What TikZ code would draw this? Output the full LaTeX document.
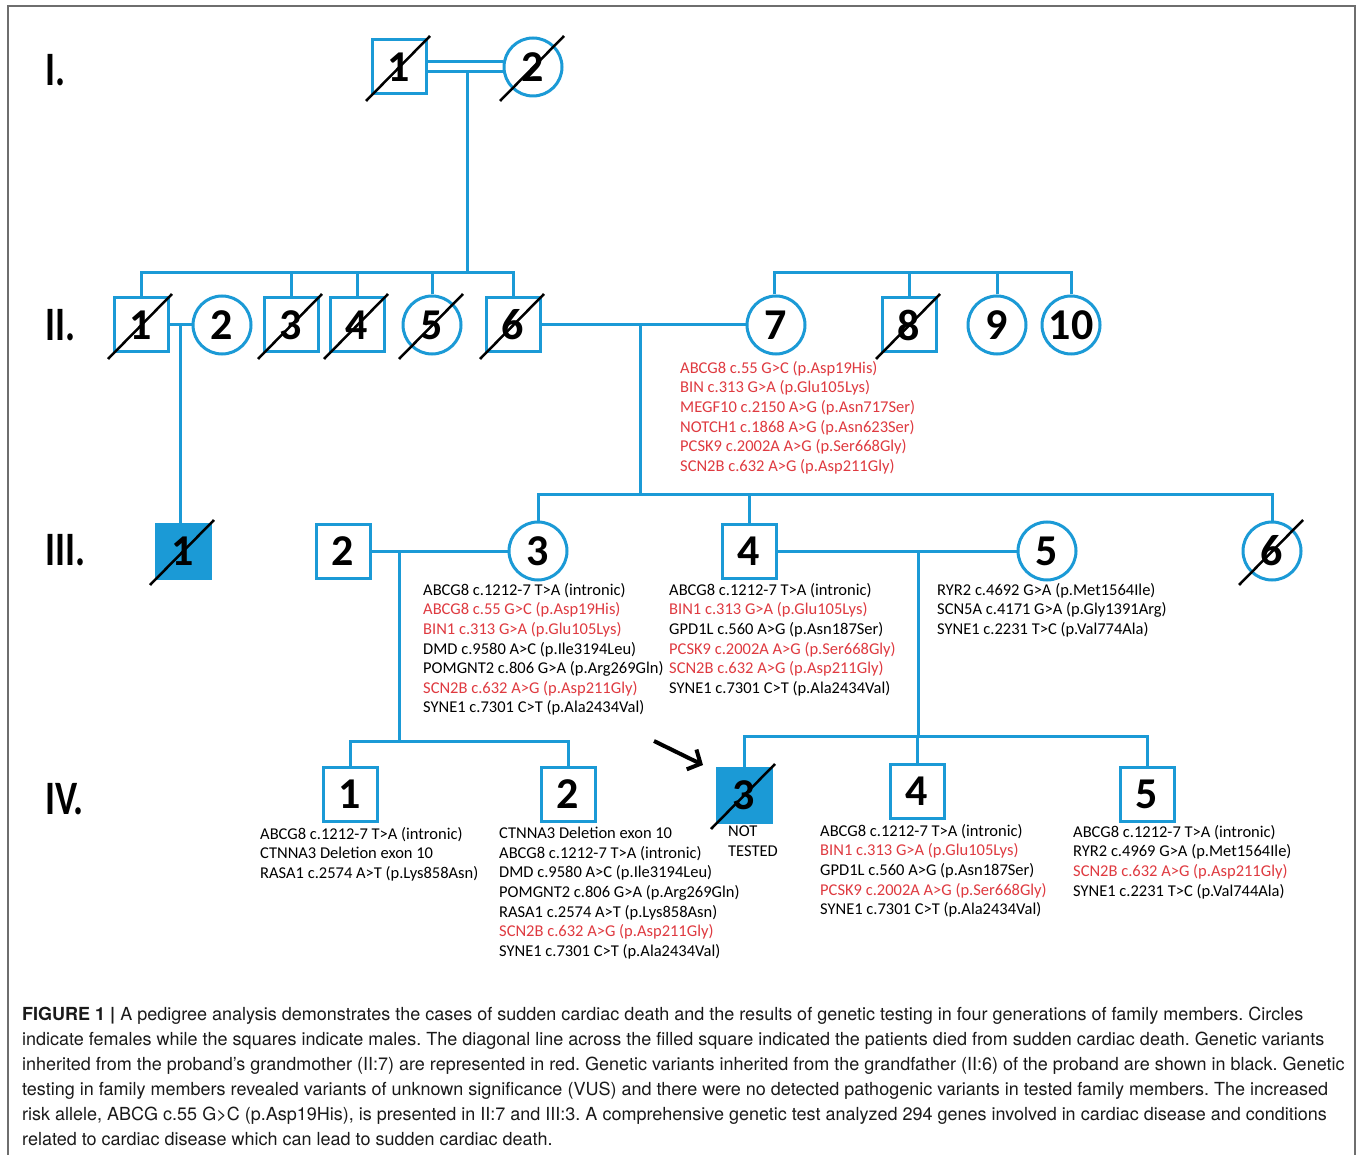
\documentclass[tikz,border=0pt]{standalone}
\usepackage{fontspec}
\setmainfont{Carlito}
\newfontfamily\capfont{TeX Gyre Heros}
\newfontfamily\genfont[FakeStretch=0.78]{Carlito}
\usetikzlibrary{calc,arrows.meta}
\definecolor{pblue}{HTML}{1B9AD6}
\definecolor{vred}{HTML}{DF3A40}
\definecolor{framegray}{HTML}{6E6E6E}
\definecolor{captext}{HTML}{1A1A1A}
\newcommand\redv[1]{\textcolor{vred}{#1}}
\frenchspacing
\begin{document}
\begin{tikzpicture}[x=1pt,y=-1pt,
  person/.style={draw=pblue,line width=3pt,inner sep=0pt,text=black,
    font=\fontsize{44}{44}\selectfont\bfseries},
  male/.style={person,rectangle,minimum size=54pt},
  female/.style={person,circle,minimum size=58pt},
  affected/.style={fill=pblue},
  rel/.style={draw=pblue,line width=3pt},
  slash/.style={draw=black,line width=2.5pt},
  gen/.style={font=\genfont\fontsize{48}{48}\selectfont\bfseries,anchor=west,inner sep=0pt},
  var/.style={font=\fontsize{16.5}{19.6}\selectfont,align=left,anchor=north west,inner sep=0pt},
]
\useasboundingbox (0,0) rectangle (1358,1155);
\fill[white] (0,0) rectangle (1358,1155);
\draw[framegray,line width=1.5pt] (8,1160) -- (8,6) -- (1355,6) -- (1355,1160);

% generation labels
\node[gen] (gI) at (45,70) {I.};
\node[gen] (gII) at (45,325) {II.};
\node[gen] (gIII) at (45,550) {III.};
\node[gen] (gIV) at (45,799) {IV.};

% generation I
\node[male] (I1) at (399,67) {1};
\node[female] (I2) at (533,67) {2};
% generation II
\node[male] (II1) at (141,325) {1};
\node[female] (II2) at (222,325) {2};
\node[male] (II3) at (291,325) {3};
\node[male] (II4) at (357,325) {4};
\node[female] (II5) at (432,325) {5};
\node[male] (II6) at (513,325) {6};
\node[female] (II7) at (776,325) {7};
\node[male] (II8) at (909,325) {8};
\node[female] (II9) at (997,325) {9};
\node[female] (II10) at (1071,325) {10};
% generation III
\node[male,affected] (III1) at (183,551) {1};
\node[male] (III2) at (343,551) {2};
\node[female] (III3) at (538,551) {3};
\node[male] (III4) at (749,551) {4};
\node[female] (III5) at (1047,551) {5};
\node[female] (III6) at (1272,551) {6};
% generation IV
\node[male] (IV1) at (350,794) {1};
\node[male] (IV2) at (568,794) {2};
\node[male,affected] (IV3) at (744,795) {3};
\node[male] (IV4) at (917,791) {4};
\node[male] (IV5) at (1147,794) {5};

% slashes (deceased)
\foreach \n in {I1,I2,II1,II3,II4,II5,II6,II8,III1,III6,IV3}
  \draw[slash] ($(\n)+(-33,34)$) -- ($(\n)+(31,-31)$);

% junction coordinates
\coordinate (mI) at (467,72);
\coordinate (sII) at (467,273);
\coordinate (mII12) at (180,325);
\coordinate (mII67) at (640,325);
\coordinate (sIII) at (640,494);
\coordinate (sII7) at (774,273);
\coordinate (mIII23) at (399,551);
\coordinate (sIVa) at (399,741);
\coordinate (mIII45) at (918,551);
\coordinate (sIVb) at (918,736);

% generation I couple (double line) and descent
\draw[rel] ([yshift=5pt]I1.east) -- ([yshift=5pt]I2.west);
\draw[rel] ([yshift=-5pt]I1.east) -- ([yshift=-5pt]I2.west);
\draw[rel] (mI) -- (sII);
% sibship II
\draw[rel] (II1.north) -- (II1.north |- sII) -- (II6.north |- sII) -- (II6.north);
\foreach \n in {II3,II4,II5} \draw[rel] (\n.north) -- (\n.north |- sII);
% II:1 x II:2
\draw[rel] (II1) -- (II2);
\draw[rel] (mII12) -- (mII12 |- III1.north);
% II:6 x II:7
\draw[rel] (II6) -- (II7);
\draw[rel] (mII67) -- (sIII);
\draw[rel] (III3.north) -- (III3.north |- sIII) -- (III6.north |- sIII) -- (III6.north);
\draw[rel] (III4.north) -- (III4.north |- sIII);
% II:7 sibship
\draw[rel] (sII7 |- II7.north) -- (sII7) -- (II10.north |- sII7) -- (II10.north);
\foreach \n in {II8,II9} \draw[rel] (\n.north) -- (\n.north |- sII7);
% III:2 x III:3
\draw[rel] (III2) -- (III3);
\draw[rel] (mIII23) -- (sIVa);
\draw[rel] (IV1.north) -- (IV1.north |- sIVa) -- (IV2.north |- sIVa) -- (IV2.north);
% III:4 x III:5
\draw[rel] (III4) -- (III5);
\draw[rel] (mIII45) -- (sIVb);
\draw[rel] (IV3.north) -- (IV3.north |- sIVb) -- (IV5.north |- sIVb) -- (IV5.north);
\draw[rel] (IV4.north) -- (IV4.north |- sIVb);

% proband arrow
\coordinate (arrS) at (654,741);
\coordinate (arrE) at (703,765);
\draw[black,line width=4pt,-{Straight Barb[length=10pt,width=22pt]}] (arrS) -- (arrE);

% variant lists
\node[var] (vII7) at (680,361) {\redv{ABCG8 c.55 G>C (p.Asp19His)}\\
\redv{BIN c.313 G>A (p.Glu105Lys)}\\
\redv{MEGF10 c.2150 A>G (p.Asn717Ser)}\\
\redv{NOTCH1 c.1868 A>G (p.Asn623Ser)}\\
\redv{PCSK9 c.2002A A>G (p.Ser668Gly)}\\
\redv{SCN2B c.632 A>G (p.Asp211Gly)}};

\node[var] (vIII3) at (423,583) {ABCG8 c.1212-7 T>A (intronic)\\
\redv{ABCG8 c.55 G>C (p.Asp19His)}\\
\redv{BIN1 c.313 G>A (p.Glu105Lys)}\\
DMD c.9580 A>C (p.Ile3194Leu)\\
POMGNT2 c.806 G>A (p.Arg269Gln)\\
\redv{SCN2B c.632 A>G (p.Asp211Gly)}\\
SYNE1 c.7301 C>T (p.Ala2434Val)};

\node[var] (vIII4) at (669,583) {ABCG8 c.1212-7 T>A (intronic)\\
\redv{BIN1 c.313 G>A (p.Glu105Lys)}\\
GPD1L c.560 A>G (p.Asn187Ser)\\
\redv{PCSK9 c.2002A A>G (p.Ser668Gly)}\\
\redv{SCN2B c.632 A>G (p.Asp211Gly)}\\
SYNE1 c.7301 C>T (p.Ala2434Val)};

\node[var] (vIII5) at (937,583) {RYR2 c.4692 G>A (p.Met1564Ile)\\
SCN5A c.4171 G>A (p.Gly1391Arg)\\
SYNE1 c.2231 T>C (p.Val774Ala)};

\node[var] (vIV1) at (260,827) {ABCG8 c.1212-7 T>A (intronic)\\
CTNNA3 Deletion exon 10\\
RASA1 c.2574 A>T (p.Lys858Asn)};

\node[var] (vIV2) at (499,827) {CTNNA3 Deletion exon 10\\
ABCG8 c.1212-7 T>A (intronic)\\
DMD c.9580 A>C (p.Ile3194Leu)\\
POMGNT2 c.806 G>A (p.Arg269Gln)\\
RASA1 c.2574 A>T (p.Lys858Asn)\\
\redv{SCN2B c.632 A>G (p.Asp211Gly)}\\
SYNE1 c.7301 C>T (p.Ala2434Val)};

\node[var] (vIV3) at (728,826) {NOT\\TESTED};

\node[var] (vIV4) at (820,824) {ABCG8 c.1212-7 T>A (intronic)\\
\redv{BIN1 c.313 G>A (p.Glu105Lys)}\\
GPD1L c.560 A>G (p.Asn187Ser)\\
\redv{PCSK9 c.2002A A>G (p.Ser668Gly)}\\
SYNE1 c.7301 C>T (p.Ala2434Val)};

\node[var] (vIV5) at (1073,825) {ABCG8 c.1212-7 T>A (intronic)\\
RYR2 c.4969 G>A (p.Met1564Ile)\\
\redv{SCN2B c.632 A>G (p.Asp211Gly)}\\
SYNE1 c.2231 T>C (p.Val744Ala)};

% caption
\node[anchor=north west,inner sep=0pt,align=left,text=captext,
  font=\capfont\fontsize{18}{25}\selectfont] (cap) at (22,1007)
{\textbf{FIGURE 1 |} A pedigree analysis demonstrates the cases of sudden cardiac death and the results of genetic testing in four generations of family members. Circles\\
indicate females while the squares indicate males. The diagonal line across the filled square indicated the patients died from sudden cardiac death. Genetic variants\\
inherited from the proband’s grandmother (II:7) are represented in red. Genetic variants inherited from the grandfather (II:6) of the proband are shown in black. Genetic\\
testing in family members revealed variants of unknown significance (VUS) and there were no detected pathogenic variants in tested family members. The increased\\
risk allele, ABCG c.55 G>C (p.Asp19His), is presented in II:7 and III:3. A comprehensive genetic test analyzed 294 genes involved in cardiac disease and conditions\\
related to cardiac disease which can lead to sudden cardiac death.};
\end{tikzpicture}
\end{document}
